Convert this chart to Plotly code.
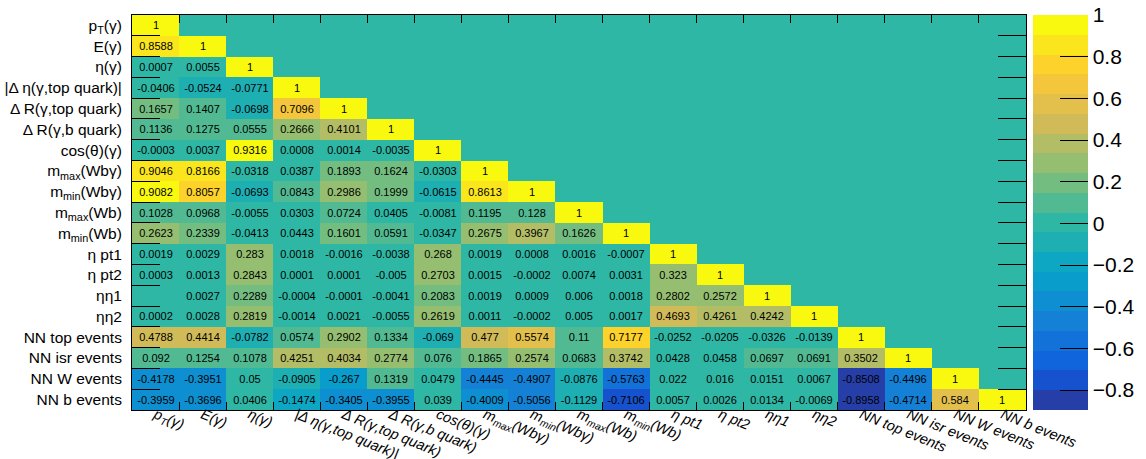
import plotly.graph_objects as go
import math

labels = [
    "p<sub>T</sub>(γ)", "E(γ)", "η(γ)", "|Δ η(γ,top quark)|", "Δ R(γ,top quark)",
    "Δ R(γ,b quark)", "cos(θ)(γ)", "m<sub>max</sub>(Wbγ)", "m<sub>min</sub>(Wbγ)",
    "m<sub>max</sub>(Wb)", "m<sub>min</sub>(Wb)", "η pt1", "η pt2", "ηη1", "ηη2",
    "NN top events", "NN isr events", "NN W events", "NN b events",
]

# lower-triangle correlation rows (row i has i+1 entries)
r00 = [1]
r01 = [0.8588, 1]
r02 = [0.0007, 0.0055, 1]
r03 = [-0.0406, -0.0524, -0.0771, 1]
r04 = [0.1657, 0.1407, -0.0698, 0.7096, 1]
r05 = [0.1136, 0.1275, 0.0555, 0.2666, 0.4101, 1]
r06 = [-0.0003, 0.0037, 0.9316, 0.0008, 0.0014, -0.0035, 1]
r07 = [0.9046, 0.8166, -0.0318, 0.0387, 0.1893, 0.1624, -0.0303, 1]
r08 = [0.9082, 0.8057, -0.0693, 0.0843, 0.2986, 0.1999, -0.0615, 0.8613, 1]
r09 = [0.1028, 0.0968, -0.0055, 0.0303, 0.0724, 0.0405, -0.0081, 0.1195, 0.128, 1]
r10 = [0.2623, 0.2339, -0.0413, 0.0443, 0.1601, 0.0591, -0.0347, 0.2675, 0.3967, 0.1626, 1]
r11 = [0.0019, 0.0029, 0.283, 0.0018, -0.0016, -0.0038, 0.268, 0.0019, 0.0008, 0.0016, -0.0007, 1]
r12 = [0.0003, 0.0013, 0.2843, 0.0001, 0.0001, -0.005, 0.2703, 0.0015, -0.0002, 0.0074, 0.0031, 0.323, 1]
r13 = [0, 0.0027, 0.2289, -0.0004, -0.0001, -0.0041, 0.2083, 0.0019, 0.0009, 0.006, 0.0018, 0.2802, 0.2572, 1]
r14 = [0.0002, 0.0028, 0.2819, -0.0014, 0.0021, -0.0055, 0.2619, 0.0011, -0.0002, 0.005, 0.0017, 0.4693, 0.4261, 0.4242, 1]
r15 = [0.4788, 0.4414, -0.0782, 0.0574, 0.2902, 0.1334, -0.069, 0.477, 0.5574, 0.11, 0.7177, -0.0252, -0.0205, -0.0326, -0.0139, 1]
r16 = [0.092, 0.1254, 0.1078, 0.4251, 0.4034, 0.2774, 0.076, 0.1865, 0.2574, 0.0683, 0.3742, 0.0428, 0.0458, 0.0697, 0.0691, 0.3502, 1]
r17 = [-0.4178, -0.3951, 0.05, -0.0905, -0.267, 0.1319, 0.0479, -0.4445, -0.4907, -0.0876, -0.5763, 0.022, 0.016, 0.0151, 0.0067, -0.8508, -0.4496, 1]
r18 = [-0.3959, -0.3696, 0.0406, -0.1474, -0.3405, -0.3955, 0.039, -0.4009, -0.5056, -0.1129, -0.7106, 0.0057, 0.0026, 0.0134, -0.0069, -0.8958, -0.4714, 0.584, 1]

rows = [r00, r01, r02, r03, r04, r05, r06, r07, r08, r09, r10, r11, r12, r13, r14, r15, r16, r17, r18]
n = len(labels)

z = []
text = []
for r in rows:
    zr = list(r) + [0] * (n - len(r))
    z.append(zr)
    text.append([("" if v == 0 else f"{v:g}") for v in zr])

zmin = min(min(r) for r in rows)
zmax = 1.0

# ROOT kBird palette, 255 gradient colours, 20 contour levels
stops = [0.0, 0.125, 0.25, 0.375, 0.5, 0.625, 0.75, 0.875, 1.0]
red = [0.2082, 0.0592, 0.0780, 0.0232, 0.1802, 0.5301, 0.8186, 0.9956, 0.9764]
green = [0.1664, 0.3599, 0.5041, 0.6419, 0.7178, 0.7492, 0.7328, 0.7862, 0.9832]
blue = [0.5293, 0.8684, 0.8385, 0.7914, 0.6425, 0.4662, 0.3499, 0.1968, 0.0539]
NC = 255
pal = []
for g in range(1, len(stops)):
    ncg = int(math.floor(NC * stops[g]) - math.floor(NC * stops[g - 1]))
    for c in range(ncg):
        pal.append((red[g - 1] + c * (red[g] - red[g - 1]) / ncg,
                    green[g - 1] + c * (green[g] - green[g - 1]) / ncg,
                    blue[g - 1] + c * (blue[g] - blue[g - 1]) / ncg))
ndiv = 20
colorscale = []
for i in range(ndiv):
    idx = min(int((i + 0.99) * len(pal) / ndiv), len(pal) - 1)
    rr, gg, bb = pal[idx]
    col = f"rgb({round(rr*255)},{round(gg*255)},{round(bb*255)})"
    colorscale.append([i / ndiv, col])
    colorscale.append([(i + 1) / ndiv, col])

FONT = "Liberation Sans, Arial, Helvetica, sans-serif"

fig = go.Figure(go.Heatmap(
    x=labels, y=labels, z=z, text=text, texttemplate="%{text}",
    textfont=dict(family=FONT, size=11, color="black"),
    zmin=zmin, zmax=zmax, colorscale=colorscale,
    colorbar=dict(
        x=1.0078, xanchor="left", xpad=0, ypad=0, y=0.5, yanchor="middle",
        len=1.0, thickness=55, outlinewidth=0,
        ticks="inside", ticklen=28, tickwidth=1, tickcolor="black",
        tick0=0, dtick=0.2,
        tickfont=dict(family=FONT, size=21, color="black"),
    ),
    hoverongaps=False,
))

fig.update_xaxes(
    type="category", tickson="boundaries", ticks="inside", ticklen=8,
    tickcolor="black", showline=True, linecolor="black", linewidth=1, mirror="ticks",
    tickangle=22, ticklabelstandoff=-10,
    tickfont=dict(family=FONT, size=14.5, color="black", style="italic"),
    showgrid=False, zeroline=False, automargin=False,
)
fig.update_yaxes(
    type="category", tickson="boundaries", ticks="inside", ticklen=28,
    tickcolor="black", showline=True, linecolor="black", linewidth=1, mirror="ticks",
    autorange="reversed", ticklabelstandoff=6,
    tickfont=dict(family=FONT, size=15.5, color="black"),
    showgrid=False, zeroline=False, automargin=False,
)

fig.update_layout(
    width=1146, height=459,
    margin=dict(l=132, r=120, t=15, b=49, autoexpand=False),
    paper_bgcolor="white", plot_bgcolor="white",
    font=dict(family=FONT),
)

fig.write_html("out.html")
